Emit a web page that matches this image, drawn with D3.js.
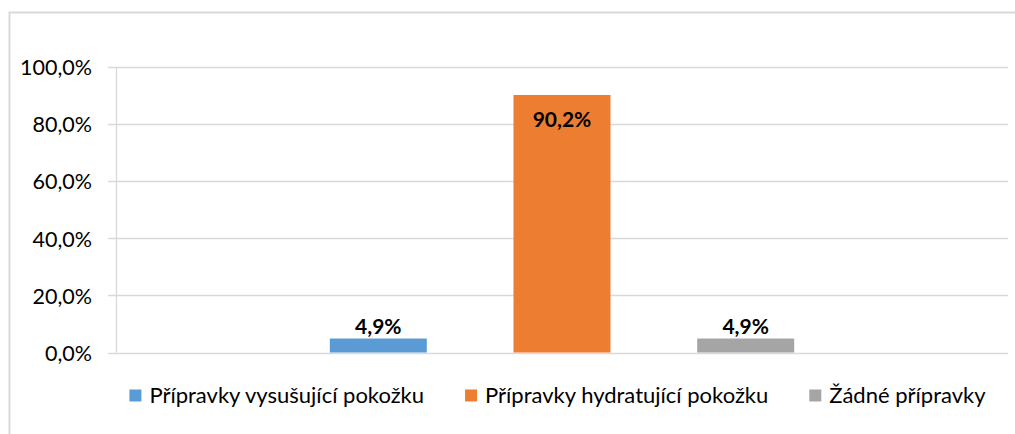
<!DOCTYPE html>
<html>
<head>
<meta charset="utf-8">
<script src="https://cdn.jsdelivr.net/npm/d3@7/dist/d3.min.js"></script>
<style>
  html, body { margin: 0; padding: 0; background: #fff; }
  svg { display: block; }
  text { font-family: Lato, "Open Sans", sans-serif; fill: #000; }
</style>
</head>
<body>
<svg id="chart" width="1015" height="434"></svg>
<script>
// ---- data ----
const seriesNames = ["Přípravky vysušující pokožku", "Přípravky hydratující pokožku", "Žádné přípravky"];
const seriesValues = [0.049, 0.902, 0.049];
const seriesColors = ["#5b9bd5", "#ed7d31", "#a5a5a5"];
const yTickValues = [0, 0.2, 0.4, 0.6, 0.8, 1.0];

const locale = d3.formatLocale({decimal: ",", thousands: "\u00a0", grouping: [3], currency: ["", " Kč"]});
const fmt = locale.format(".1%");

const svg = d3.select("#chart");

// outer frame (cut off at right and bottom)
svg.append("path")
  .attr("d", "M9.5,434 L9.5,12.5 L1015,12.5")
  .attr("fill", "none").attr("stroke", "#d9d9d9").attr("stroke-width", 2);

const plotLeft = 116, plotRight = 1008, plotTop = 67, plotBottom = 352.5;

const y = d3.scaleLinear().domain([0, 1]).range([plotBottom, plotTop]);
const x = d3.scaleBand().domain(seriesNames).range([plotLeft, plotRight])
  .paddingInner(0.472).paddingOuter(1.164);

// gridlines (extend left as tick marks)
svg.append("g").selectAll("line").data(yTickValues).join("line")
  .attr("x1", plotLeft - 8).attr("x2", plotRight)
  .attr("y1", d => Math.round(y(d)) + 0.5).attr("y2", d => Math.round(y(d)) + 0.5)
  .attr("stroke", "#d9d9d9").attr("stroke-width", 1.3);

// vertical axis line
svg.append("line")
  .attr("x1", plotLeft + 0.5).attr("x2", plotLeft + 0.5)
  .attr("y1", y(1)).attr("y2", y(0))
  .attr("stroke", "#d9d9d9").attr("stroke-width", 1.3);

// y axis via d3 axis, lines hidden
const yAxis = svg.append("g").attr("transform", `translate(${92},0)`)
  .call(d3.axisLeft(y).tickValues(yTickValues).tickFormat(fmt).tickSize(0).tickPadding(0));
yAxis.select(".domain").remove();
yAxis.selectAll("text")
  .style("font-family", "Lato, sans-serif").style("font-size", "21.5px").attr("fill", "#000")
  .attr("dy", "0.36em");

// bars
svg.append("g").selectAll("rect").data(seriesNames).join("rect")
  .attr("x", d => x(d)).attr("width", x.bandwidth())
  .attr("y", (d, i) => y(seriesValues[i]))
  .attr("height", (d, i) => y(0) - y(seriesValues[i]))
  .attr("fill", (d, i) => seriesColors[i]);

// value labels
svg.append("g").selectAll("text").data(seriesNames).join("text")
  .attr("x", d => x(d) + x.bandwidth() / 2)
  .attr("y", (d, i) => seriesValues[i] > 0.5 ? y(seriesValues[i]) + 32 : y(seriesValues[i]) - 5)
  .attr("text-anchor", "middle")
  .style("font-size", "21px").style("font-weight", "bold")
  .text((d, i) => fmt(seriesValues[i]));

// legend
const legend = svg.append("g");
const items = legend.selectAll("g").data(seriesNames).join("g");
items.append("rect").attr("width", 12).attr("height", 12).attr("y", -13)
  .attr("fill", (d, i) => seriesColors[i]);
items.append("text").attr("x", 20).attr("y", 0)
  .style("font-size", "22px").text(d => d);
const gap = 41;
let widths = [];
items.each(function() { widths.push(20 + d3.select(this).select("text").node().getComputedTextLength()); });
const total = d3.sum(widths) + gap * (widths.length - 1);
let cx = 557.5 - total / 2;
items.attr("transform", (d, i) => {
  const t = `translate(${cx},402.5)`;
  cx += widths[i] + gap;
  return t;
});
</script>
</body>
</html>
